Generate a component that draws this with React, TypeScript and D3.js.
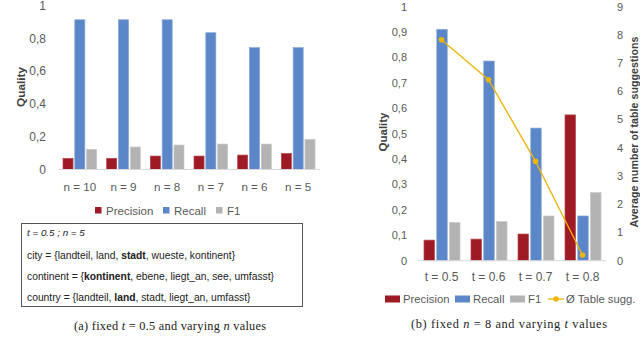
import React from "react";
import * as d3 from "d3";

// ---------- Data ----------
const nCategories = ["n = 10", "n = 9", "n = 8", "n = 7", "n = 6", "n = 5"];
const nPrecision = [0.068, 0.068, 0.082, 0.082, 0.088, 0.098];
const nRecall = [0.913, 0.913, 0.913, 0.834, 0.743, 0.743];
const nF1 = [0.123, 0.137, 0.149, 0.155, 0.155, 0.184];
const leftTicks = [0, 0.2, 0.4, 0.6, 0.8, 1];

const tCategories = ["t = 0.5", "t = 0.6", "t = 0.7", "t = 0.8"];
const tPrecision = [0.081, 0.085, 0.105, 0.574];
const tRecall = [0.911, 0.786, 0.522, 0.176];
const tF1 = [0.15, 0.154, 0.176, 0.268];
const tSuggestions = [7.83, 6.41, 3.52, 0.2];
const rightTicksQ = [0, 0.1, 0.2, 0.3, 0.4, 0.5, 0.6, 0.7, 0.8, 0.9, 1];
const rightTicksS = [0, 1, 2, 3, 4, 5, 6, 7, 8, 9];

const seriesNames = ["Precision", "Recall", "F1"];
const colors = ["#9E1B25", "#5B86C7", "#B3B3B3"];
const strokes = ["#B8474F", "#86A6D8", "#C8C8C8"];
const gold = "#EDB40A";

const FONT = "'Liberation Sans', Arial, sans-serif";
const SERIF = "'Liberation Serif', 'DejaVu Serif', serif";
const TICK = "#595959";

const fmt = (v: number) => String(v).replace(".", ",");

function App() {
  // ----- left chart scales -----
  const xL = d3.scaleBand<string>().domain(nCategories).range([58, 320]);
  const xLs = d3.scaleBand<string>().domain(seriesNames).range([5, xL.bandwidth() - 5]).paddingInner(0.15);
  const yL = d3.scaleLinear().domain([0, 1]).range([169.5, 5.5]);
  const leftSeries = [nPrecision, nRecall, nF1];

  // ----- right chart scales -----
  const xR = d3.scaleBand<string>().domain(tCategories).range([418, 606]);
  const xRs = d3.scaleBand<string>().domain(seriesNames).range([6, xR.bandwidth() - 5]).paddingInner(0.18);
  const yR = d3.scaleLinear().domain([0, 1]).range([260.7, 6.7]);
  const yS = d3.scaleLinear().domain([0, 9]).range([260.7, 6.7]);
  const rightSeries = [tPrecision, tRecall, tF1];

  const line = d3
    .line<number>()
    .x((_, i) => (xR(tCategories[i]) as number) + xR.bandwidth() / 2)
    .y((d) => yS(d));

  return (
    <div style={{ position: "absolute", left: 0, top: 0, width: 640, height: 349, overflow: "hidden" }}>
      <svg width={640} height={349} style={{ display: "block", background: "#fff" }} fontFamily={FONT}>
        {/* ================= LEFT CHART ================= */}
        <g>
          {leftTicks.map((t) => (
            <text key={t} x={46} y={yL(t)} dy="0.35em" textAnchor="end" fontSize={12} fill={TICK}>
              {fmt(t)}
            </text>
          ))}
          <text
            transform={`translate(21,87) rotate(-90)`}
            textAnchor="middle"
            dy="0.35em"
            fontSize={11.8}
            fontWeight="bold"
            fill="#404040"
          >
            Quality
          </text>
          {leftSeries.map((vals, si) =>
            vals.map((v, i) => {
              const x = (xL(nCategories[i]) as number) + (xLs(seriesNames[si]) as number);
              return (
                <rect
                  key={`l${si}-${i}`}
                  x={x}
                  y={yL(v)}
                  width={xLs.bandwidth()}
                  height={yL(0) - yL(v)}
                  fill={colors[si]}
                  stroke={strokes[si]}
                  strokeWidth={0.7}
                />
              );
            })
          )}
          <line x1={58} x2={320} y1={yL(0)} y2={yL(0)} stroke="#D9D9D9" strokeWidth={1} />
          {nCategories.map((c) => (
            <text
              key={c}
              x={(xL(c) as number) + xL.bandwidth() / 2}
              y={187}
              dy="0.35em"
              textAnchor="middle"
              fontSize={11.6}
              fill={TICK}
            >
              {c}
            </text>
          ))}
          {/* legend */}
          {seriesNames.map((s, i) => {
            const xs = [95, 163, 216][i];
            return (
              <g key={s}>
                <rect x={xs} y={207} width={6.5} height={6.5} fill={colors[i]} />
                <text x={xs + 11} y={210.5} dy="0.35em" fontSize={11.5} fill={TICK}>
                  {s}
                </text>
              </g>
            );
          })}
          {/* box */}
          <rect x={21.5} y={223.5} width={281} height={83} fill="none" stroke="#555" strokeWidth={1} />
          <text x={27} y={233} dy="0.35em" fontSize={9.8} fontStyle="italic" fill="#222">
            t = 0.5 ; n = 5
          </text>
          <text x={27} y={255} dy="0.35em" fontSize={10.3} fill="#222">
            city = {"{"}landteil, land, <tspan fontWeight="bold">stadt</tspan>, wueste, kontinent{"}"}
          </text>
          <text x={27} y={276} dy="0.35em" fontSize={10.3} fill="#222">
            continent = {"{"}
            <tspan fontWeight="bold">kontinent</tspan>, ebene, liegt_an, see, umfasst{"}"}
          </text>
          <text x={27} y={297} dy="0.35em" fontSize={10.3} fill="#222">
            country = {"{"}landteil, <tspan fontWeight="bold">land</tspan>, stadt, liegt_an, umfasst{"}"}
          </text>
          <text
            x={74}
            y={326}
            dy="0.35em"
            fontSize={12.3}
            fontFamily={SERIF}
            fill="#222"
            textLength={192}
            lengthAdjust="spacing"
          >
            (a) fixed <tspan fontStyle="italic">t</tspan> = 0.5 and varying <tspan fontStyle="italic">n</tspan> values
          </text>
        </g>

        {/* ================= RIGHT CHART ================= */}
        <g>
          {rightTicksQ.map((t) => (
            <text key={t} x={407} y={yR(t)} dy="0.35em" textAnchor="end" fontSize={11} fill={TICK}>
              {fmt(Math.round(t * 10) / 10)}
            </text>
          ))}
          {rightTicksS.map((t) => (
            <text key={t} x={617} y={yS(t)} dy="0.35em" textAnchor="start" fontSize={11} fill={TICK}>
              {t}
            </text>
          ))}
          <text
            transform={`translate(383,132) rotate(-90)`}
            textAnchor="middle"
            dy="0.35em"
            fontSize={11.5}
            fontWeight="bold"
            fill="#404040"
          >
            Quality
          </text>
          <text
            transform={`translate(634,132) rotate(-90)`}
            textAnchor="middle"
            dy="0.35em"
            fontSize={10.7}
            fontWeight="bold"
            fill="#404040"
          >
            Average number of table suggestions
          </text>
          {rightSeries.map((vals, si) =>
            vals.map((v, i) => {
              const x = (xR(tCategories[i]) as number) + (xRs(seriesNames[si]) as number);
              return (
                <rect
                  key={`r${si}-${i}`}
                  x={x}
                  y={yR(v)}
                  width={xRs.bandwidth()}
                  height={yR(0) - yR(v)}
                  fill={colors[si]}
                  stroke={strokes[si]}
                  strokeWidth={0.7}
                />
              );
            })
          )}
          <line x1={418} x2={606} y1={yR(0)} y2={yR(0)} stroke="#D9D9D9" strokeWidth={1} />
          <path d={line(tSuggestions) as string} fill="none" stroke={gold} strokeWidth={1.3} />
          {tSuggestions.map((v, i) => (
            <circle
              key={i}
              cx={(xR(tCategories[i]) as number) + xR.bandwidth() / 2}
              cy={yS(v)}
              r={2.8}
              fill={gold}
            />
          ))}
          {tCategories.map((c) => (
            <text
              key={c}
              x={(xR(c) as number) + xR.bandwidth() / 2}
              y={277}
              dy="0.35em"
              textAnchor="middle"
              fontSize={12}
              fill={TICK}
            >
              {c}
            </text>
          ))}
          {/* legend */}
          {seriesNames.map((s, i) => {
            const xs = [385, 455, 510][i];
            return (
              <g key={s}>
                <rect x={xs} y={295.5} width={15} height={7} fill={colors[i]} />
                <text x={xs + 18} y={299} dy="0.35em" fontSize={11.3} fill={TICK}>
                  {s}
                </text>
              </g>
            );
          })}
          <line x1={548} x2={564} y1={299} y2={299} stroke={gold} strokeWidth={1.3} />
          <circle cx={556} cy={299} r={2.8} fill={gold} />
          <text x={566} y={299} dy="0.35em" fontSize={11.3} fill={TICK}>
            Ø Table sugg.
          </text>
          <text
            x={411}
            y={324}
            dy="0.35em"
            fontSize={12.3}
            fontFamily={SERIF}
            fill="#222"
            textLength={196}
            lengthAdjust="spacing"
          >
            (b) fixed <tspan fontStyle="italic">n</tspan> = 8 and varying <tspan fontStyle="italic">t</tspan> values
          </text>
        </g>

        {/* cut-off figure caption */}
        <text x={22} y={358.5} fontSize={12} fontFamily={SERIF} fill="#555">
          Fig. 2: Experimental results of the sampling method and the table suggestions with the different parameter values
        </text>
      </svg>
    </div>
  );
}

export default App;
